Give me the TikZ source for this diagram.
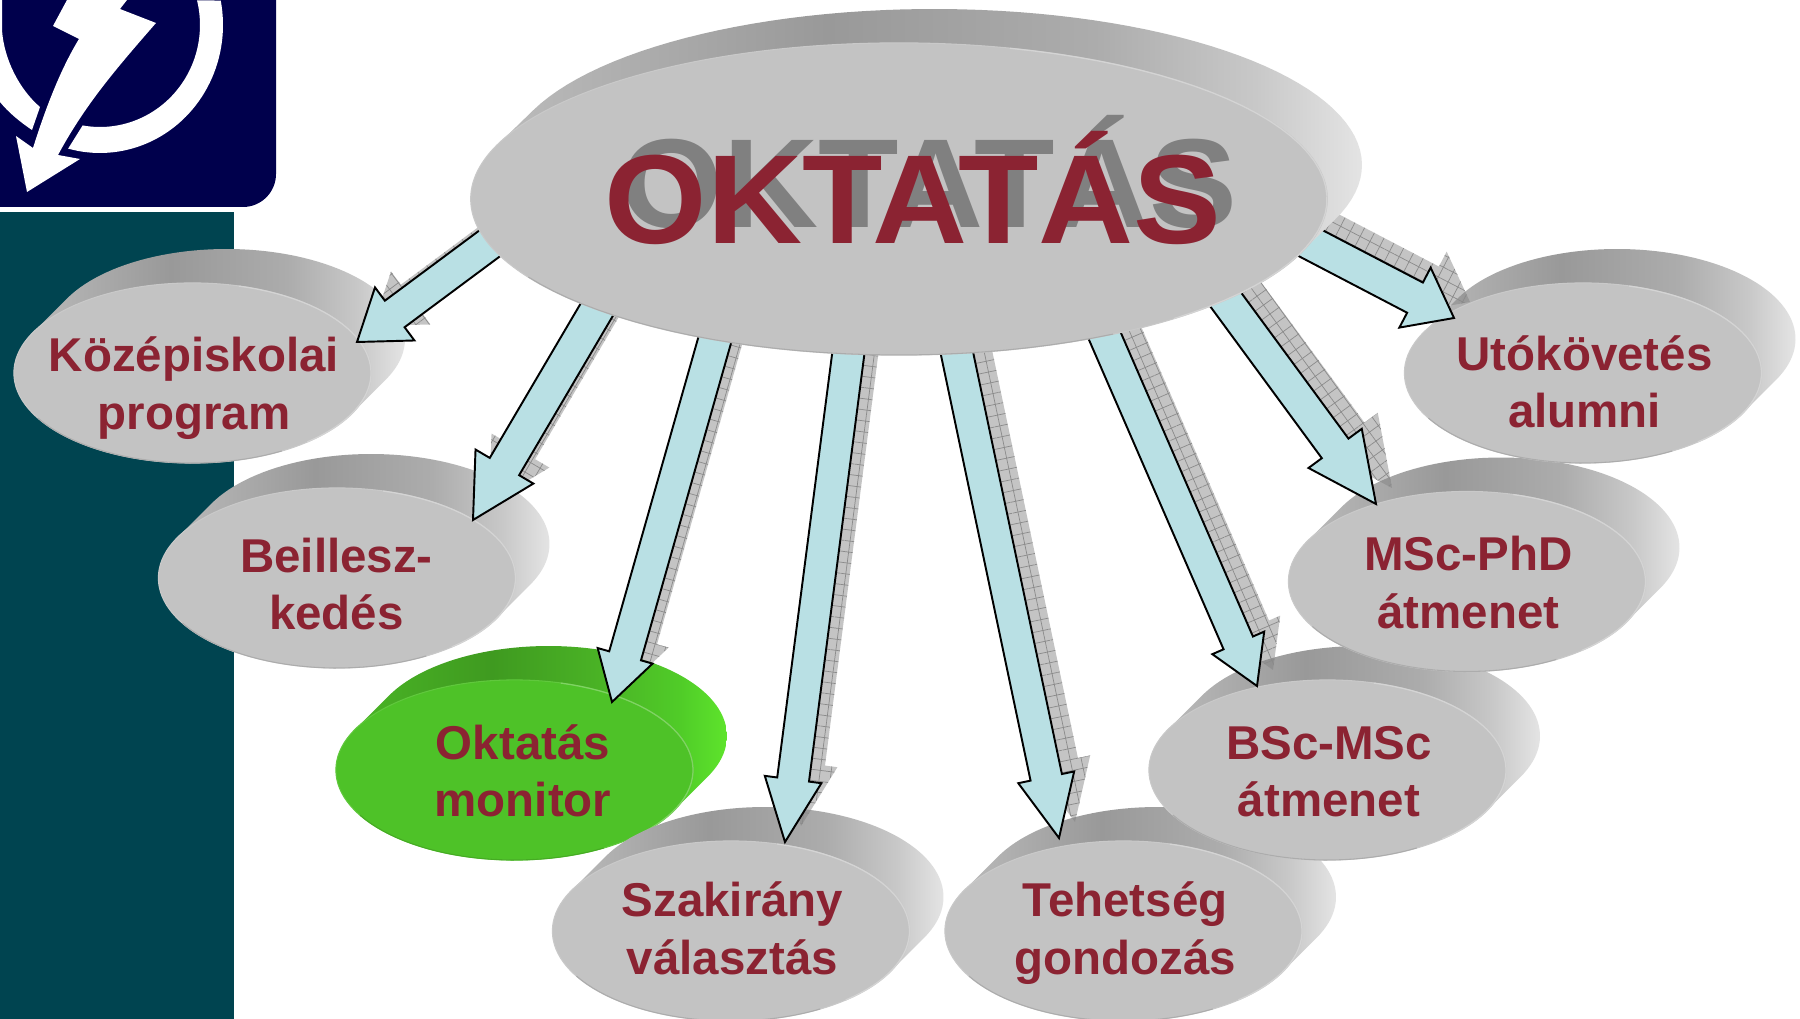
\documentclass[tikz,border=0pt]{standalone}
\usepackage{fontspec}
\setmainfont{Liberation Sans}
\usetikzlibrary{shapes.geometric,calc,patterns.meta}
\definecolor{navybox}{HTML}{00004C}
\definecolor{tealbar}{HTML}{004450}
\definecolor{labelred}{HTML}{8B2332}
\definecolor{facegray}{HTML}{C3C3C3}
\definecolor{facegreen}{HTML}{4EC228}
\definecolor{arrowcyan}{HTML}{B9E0E4}
\definecolor{shadegrid}{HTML}{8A8A8A}
\definecolor{gA}{HTML}{BEBEBE}\definecolor{gB}{HTML}{999999}\definecolor{gC}{HTML}{ACACAC}\definecolor{gD}{HTML}{C8C8C8}\definecolor{gE}{HTML}{E4E4E4}
\definecolor{vA}{HTML}{4BB826}\definecolor{vB}{HTML}{3F9A20}\definecolor{vC}{HTML}{4BB526}\definecolor{vD}{HTML}{50CC28}\definecolor{vE}{HTML}{5EE42C}
\pgfdeclarehorizontalshading{extgray}{100bp}{color(0bp)=(gA);color(25bp)=(gA);color(45bp)=(gB);color(60bp)=(gC);color(69bp)=(gD);color(75bp)=(gE);color(100bp)=(gE)}
\pgfdeclarehorizontalshading{extgreen}{100bp}{color(0bp)=(vA);color(25bp)=(vA);color(45bp)=(vB);color(60bp)=(vC);color(69bp)=(vD);color(75bp)=(vE);color(100bp)=(vE)}
\tikzset{
  lbl/.style={text=labelred,align=center,inner sep=0pt,font=\fontsize{13.5}{16.4}\selectfont\bfseries},
  hubtext/.style={inner sep=0pt,anchor=base,font=\fontsize{36}{38}\selectfont\bfseries},
  arrowbody/.style={draw=black,fill=arrowcyan,line width=0.55pt,line join=miter},
  logoink/.style={fill=white}
}
% name cx cy rx ry dx tangent shading face
\newcommand\extruded[9]{%
  \path[shading=#8] plot[domain=#7-180:#7,samples=70] ({#2+#6+#4*cos(\x)},{#3-34+#5*sin(\x)})
     -- plot[domain=#7:#7+180,samples=70] ({#2+#4*cos(\x)},{#3+#5*sin(\x)}) -- cycle;
  \node[ellipse,inner sep=0pt,outer sep=0pt,minimum width=#4*0.02cm,minimum height=#5*0.02cm,fill=#9,draw=#9!90!white,line width=0.3pt] (#1) at (#2,#3) {};
  \draw[#9!72!white,line width=0.35pt] plot[domain=-75:50,samples=40] ({#2+#4*cos(\x)},{#3+#5*sin(\x)});
  \draw[#9!88!black,line width=0.3pt] plot[domain=60:150,samples=30] ({#2+#4*cos(\x)},{#3+#5*sin(\x)});
}
\def\extrudedpick#1#2#3#4,#5\relax{\extruded{#1}{#2}{#3}{178.5}{90}{34}{26.8}{#4}{#5}}
% [shading,face] name cx cy text text-dx text-dy
\newcommand\smalldisc[7][extgray,facegray]{%
  \extrudedpick{#2}{#3}{#4}#1\relax
  \node[lbl] (#2-l) at ($(#2)+(1.5,6.5)+(#6,#7)$) {#5};
}
\begin{document}
\begin{tikzpicture}[x=0.01cm,y=-0.01cm]
\useasboundingbox (0,0) rectangle (1800,1019);
\clip (0,0) rectangle (1800,1019);
\fill[white] (0,0) rectangle (1800,1019);
% logo and side bar
\fill[tealbar] (0,212) rectangle (234,1030);
\fill[navybox,rounded corners=0.33cm] (-60,-60) rectangle (276,207);
\fill[logoink] (67,0) -- (53,26) -- (79,39) .. controls (60,70) and (45,110) .. (33,148) -- (16,136) -- (27,192) -- (80,159) -- (58,155) .. controls (85,105) and (115,70) .. (156,23) -- (120,9) -- (127,0) -- cycle;
\fill[logoink] plot[domain=-14:100,samples=50] ({100+100*cos(\x)},{25+102*sin(\x)}) -- plot[domain=105:-11,samples=50] ({100+123*cos(\x)},{25+128*sin(\x)}) -- cycle;
\fill[logoink] (0,0) -- (2,0) -- (2,30) .. controls (4,60) and (20,90) .. (40,107) -- (32,130) .. controls (20,122) and (8,112) .. (0,102) -- cycle;
% satellite discs, lowest first
\smalldisc[extgreen,facegreen]{mon}{514.5}{770}{\strut Oktatás\\\strut monitor}{7}{0}
\smalldisc{szak}{731}{931}{\strut Szakirány\\\strut választás}{0}{-3.5}
\smalldisc{teh}{1123.5}{931}{\strut Tehetség\\\strut gondozás}{0}{-3.5}
\smalldisc{bsc}{1327.5}{770}{\strut BSc-MSc\\\strut átmenet}{0}{0}
\smalldisc{msc}{1467}{581.5}{\strut MSc-PhD\\\strut átmenet}{0}{0}
\smalldisc{uto}{1583}{373}{\strut Utókövetés\\\strut alumni}{0}{8}
\smalldisc{kozep}{192.5}{373}{\strut Középiskolai\\\strut program}{0}{9.5}
\smalldisc{beill}{337}{578}{\strut Beillesz-\\\strut kedés}{-2}{5}
% centre of the hub, so arrows can start from it
\coordinate (hubc) at (899,199);
% arrows: target / start offset from hub / tip offset from target / head length / head width / shaft width / grid angle
\foreach \n/\sx/\sy/\tgt/\tx/\ty/\L/\W/\w/\a in {
  kozep/-394/33/kozep/164.5/-31/47/66/33/36.7,
  beill/-293/95/beill/136/-58/62/67/34/59.6,
  mon/-180/126/mon/97.5/-68/48/57/33/74.2,
  szak/-47/126/szak/54/-89/63/57/32/82.6,
  teh/52/126/teh/-64.5/-93/62/57/32/101.9,
  bsc/201/126/bsc/-70.5/-84/47/56.5/32/113.4,
  msc/316/86/msc/-91/-77.5/69/66/33/126,
  uto/396/36/uto/-129/-55/44/67.5/34/152.6}{
  \coordinate (s-\n) at ($(hubc)+(\sx,\sy)$);
  \coordinate (t-\n) at ($(\tgt)+(\tx,\ty)$);
  \coordinate (b-\n) at ($(t-\n)!\L*0.01cm!(s-\n)$);
  \coordinate (sa-\n) at ($(s-\n)!\w*0.005cm!90:(t-\n)$);
  \coordinate (sb-\n) at ($(s-\n)!\w*0.005cm!-90:(t-\n)$);
  \coordinate (na-\n) at ($(b-\n)!\w*0.005cm!-90:(t-\n)$);
  \coordinate (nb-\n) at ($(b-\n)!\w*0.005cm!90:(t-\n)$);
  \coordinate (ha-\n) at ($(b-\n)!\W*0.005cm!-90:(t-\n)$);
  \coordinate (hb-\n) at ($(b-\n)!\W*0.005cm!90:(t-\n)$);
  \begin{scope}[transform canvas={shift={(0.16cm,0.16cm)}}]
    \fill[black!50,opacity=0.46] (sa-\n) -- (nb-\n) -- (hb-\n) -- (t-\n) -- (ha-\n) -- (na-\n) -- (sb-\n) -- cycle;
    \fill[pattern={Lines[angle=\a,distance=0.11cm,line width=0.2pt]},pattern color=shadegrid] (sa-\n) -- (nb-\n) -- (hb-\n) -- (t-\n) -- (ha-\n) -- (na-\n) -- (sb-\n) -- cycle;
    \fill[pattern={Lines[angle=\a+90,distance=0.11cm,line width=0.2pt]},pattern color=shadegrid] (sa-\n) -- (nb-\n) -- (hb-\n) -- (t-\n) -- (ha-\n) -- (na-\n) -- (sb-\n) -- cycle;
  \end{scope}
  \draw[arrowbody] (s-\n) (sa-\n) -- (nb-\n) -- (hb-\n) -- (t-\n) -- (ha-\n) -- (na-\n) -- (sb-\n) -- cycle;
}
% hub
\extruded{hub}{899}{199}{428}{156}{35}{20.6}{extgray}{facegray}
\node[hubtext,text=black!50] (hubshadow) at (929,228) {\scalebox{1.04}[1]{OKTATÁS}};
\node[hubtext,text=labelred] (hubtitle) at (913,244) {\scalebox{1.04}[1]{OKTATÁS}};
\end{tikzpicture}
\end{document}
